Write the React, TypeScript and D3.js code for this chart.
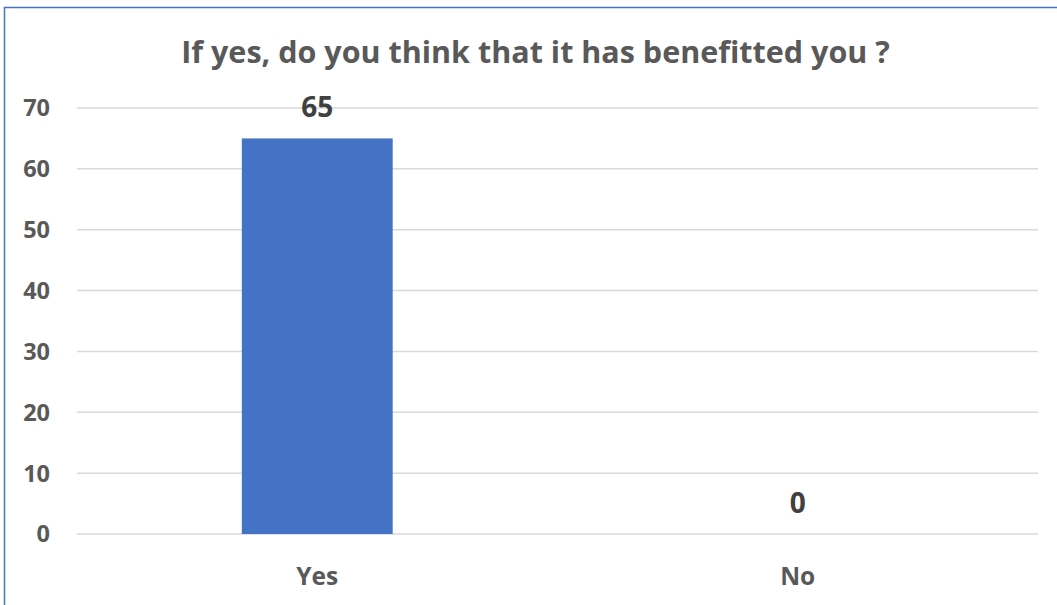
import React from "react";
import * as d3 from "d3";

const title = "If yes, do you think that it has benefitted you ?";
const categories = ["Yes", "No"];
const values = [65, 0];
const yTicks = [0, 10, 20, 30, 40, 50, 60, 70];

const W = 1057;
const H = 605;
const FONT = "'Open Sans', sans-serif";

export default function App() {
  const x = d3
    .scaleBand<string>()
    .domain(categories)
    .range([77, 1038])
    .paddingInner(0.686)
    .paddingOuter(0.343);
  const y = d3.scaleLinear().domain([0, 70]).range([534, 108]);

  return (
    <svg
      width={W}
      height={H}
      style={{ position: "absolute", left: 0, top: 0, background: "#fff" }}
      fontFamily={FONT}
    >
      <rect x={0} y={0} width={W} height={H} fill="#fff" />
      <rect x={4.5} y={7.5} width={1070} height={620} fill="none" stroke="#4472C4" strokeWidth={1.5} />
      <text x={535.5} y={63} textAnchor="middle" fontSize={30.5} fontWeight={700} fill="#595959">
        {title}
      </text>
      {yTicks.map((t) => (
        <g key={t}>
          <line x1={77} x2={1038} y1={y(t)} y2={y(t)} stroke="#D9D9D9" strokeWidth={1.5} />
          <text
            x={50}
            y={y(t)}
            dy="0.36em"
            textAnchor="end"
            fontSize={23.5}
            fontWeight={700}
            fill="#595959"
          >
            {t}
          </text>
        </g>
      ))}
      {categories.map((c, i) => (
        <g key={c}>
          <rect
            x={x(c)!}
            y={y(values[i])}
            width={x.bandwidth()}
            height={y(0) - y(values[i])}
            fill="#4472C4"
          />
          <text
            x={x(c)! + x.bandwidth() / 2}
            y={y(values[i]) - 21}
            textAnchor="middle"
            fontSize={28}
            fontWeight={700}
            fill="#404040"
          >
            {values[i]}
          </text>
          <text
            x={x(c)! + x.bandwidth() / 2}
            y={585}
            textAnchor="middle"
            fontSize={24.5}
            fontWeight={700}
            fill="#595959"
          >
            {c}
          </text>
        </g>
      ))}
    </svg>
  );
}
